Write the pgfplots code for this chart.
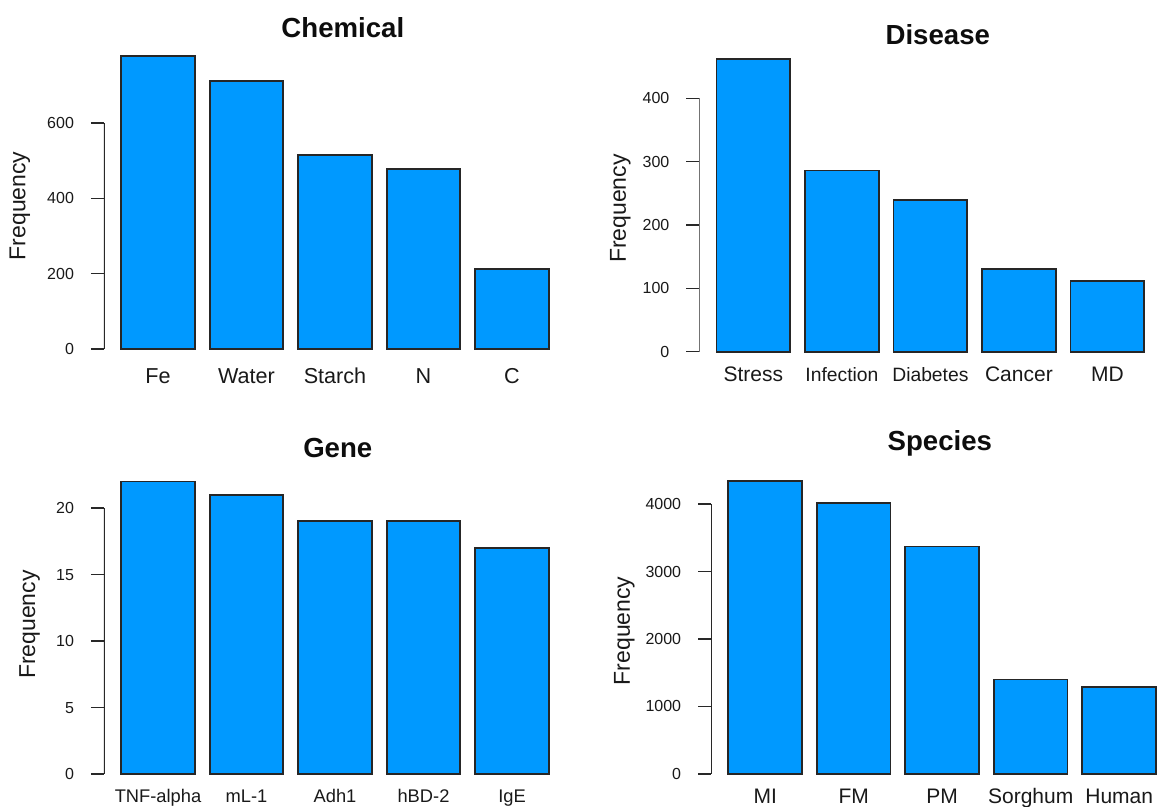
\documentclass[border=0pt]{standalone}
\usepackage{pgfplots}
\pgfplotsset{compat=1.18}
\usepackage{fontspec}
\setmainfont{Liberation Sans}
\definecolor{barblue}{RGB}{0,153,255}
\definecolor{axgray}{RGB}{40,40,40}
\pgfplotsset{
  rbar/.style={
    scale only axis, width=231pt, height=158pt,
    anchor=south west,
    xmin=-0.032, xmax=6.232, enlargelimits=false,
    axis lines=left, axis line style={draw=none},
    xtick={0.7,1.9,3.1,4.3,5.5},
    xtick style={draw=none},
    ytick style={draw=axgray, line width=0.8pt},
    tick align=outside, major tick length=6.5pt,
    scaled y ticks=false,
    /pgf/number format/assume math mode=true,
    /pgf/number format/1000 sep={},
    yticklabel style={font=\fontsize{8}{9}\selectfont, text=black!90, anchor=east, xshift=-5pt},
    xticklabel style={font=\fontsize{10.5}{12}\selectfont, text=black!90, anchor=base},
    ylabel={Frequency},
    ylabel style={font=\fontsize{11.5}{13}\selectfont, anchor=center, text=black!90},
    title style={font=\fontsize{13.8}{16}\selectfont\bfseries, anchor=center, text=black!95},
    ybar, bar width=1,
  },
  rb/.style={fill=barblue, draw=black!85, line width=0.9pt},
}
\begin{document}
\begin{tikzpicture}[x=1pt,y=1pt]
\useasboundingbox (0,0) rectangle (579,403.5);
\clip (0,0) rectangle (579,403.5);
% Chemical
\begin{axis}[rbar, at={(52pt,223.15pt)},
  ymin=-31.08, ymax=808.08, ytick={0,200,400,600},
  xticklabels={Fe,Water,Starch,N,C},
  xticklabel style={yshift=-4.8pt, font=\fontsize{10.8}{12}\selectfont},
  ylabel style={at={(axis description cs:-0.182,0.49)}},
  title={Chemical}, title style={at={(axis description cs:0.517,1)}, yshift=2.5pt}]
\addplot[rb] coordinates {(0.7,777) (1.9,712) (3.1,515) (4.3,478) (5.5,213)};
\draw[axgray, line width=0.8pt] (axis cs:-0.032,0) -- (axis cs:-0.032,600);
\end{axis}
% Disease
\begin{axis}[rbar, at={(349.7pt,221.8pt)},
  ymin=-18.48, ymax=480.48, ytick={0,100,200,300,400},
  xticklabels={Stress,{\fontsize{9.65}{11}\selectfont Infection},{\fontsize{9.65}{11}\selectfont Diabetes},Cancer,MD},
  xticklabel style={yshift=-2.6pt},
  ylabel style={at={(axis description cs:-0.171,0.49)}},
  title={Disease}, title style={at={(axis description cs:0.516,1)}, yshift=0.5pt}]
\addplot[rb] coordinates {(0.7,462) (1.9,286) (3.1,240) (4.3,130) (5.5,112)};
\draw[axgray, line width=0.8pt] (axis cs:-0.032,0) -- (axis cs:-0.032,400);
\end{axis}
% Gene
\begin{axis}[rbar, at={(52pt,10.6pt)},
  ymin=-0.88, ymax=22.88, ytick={0,5,10,15,20},
  xticklabels={TNF-alpha,mL-1,Adh1,hBD-2,IgE},
  xticklabel style={yshift=-2.0pt, font=\fontsize{9.15}{11}\selectfont},
  ylabel style={at={(axis description cs:-0.161,0.51)}},
  title={Gene}, title style={at={(axis description cs:0.506,1)}, yshift=5pt}]
\addplot[rb] coordinates {(0.7,22) (1.9,21) (3.1,19) (4.3,19) (5.5,17)};
\draw[axgray, line width=0.8pt] (axis cs:-0.032,0) -- (axis cs:-0.032,20);
\end{axis}
% Species
\begin{axis}[rbar, at={(355.6pt,10.65pt)},
  ymin=-173.4, ymax=4508.4, ytick={0,1000,2000,3000,4000},
  xticklabels={MI,FM,PM,Sorghum,Human},
  xticklabel style={yshift=-2.6pt},
  ylabel style={at={(axis description cs:-0.188,0.49)}},
  title={Species}, title style={at={(axis description cs:0.495,1)}, yshift=7pt}]
\addplot[rb] coordinates {(0.7,4335) (1.9,4015) (3.1,3370) (4.3,1399) (5.5,1290)};
\draw[axgray, line width=0.8pt] (axis cs:-0.032,0) -- (axis cs:-0.032,4000);
\end{axis}
\end{tikzpicture}
\end{document}
